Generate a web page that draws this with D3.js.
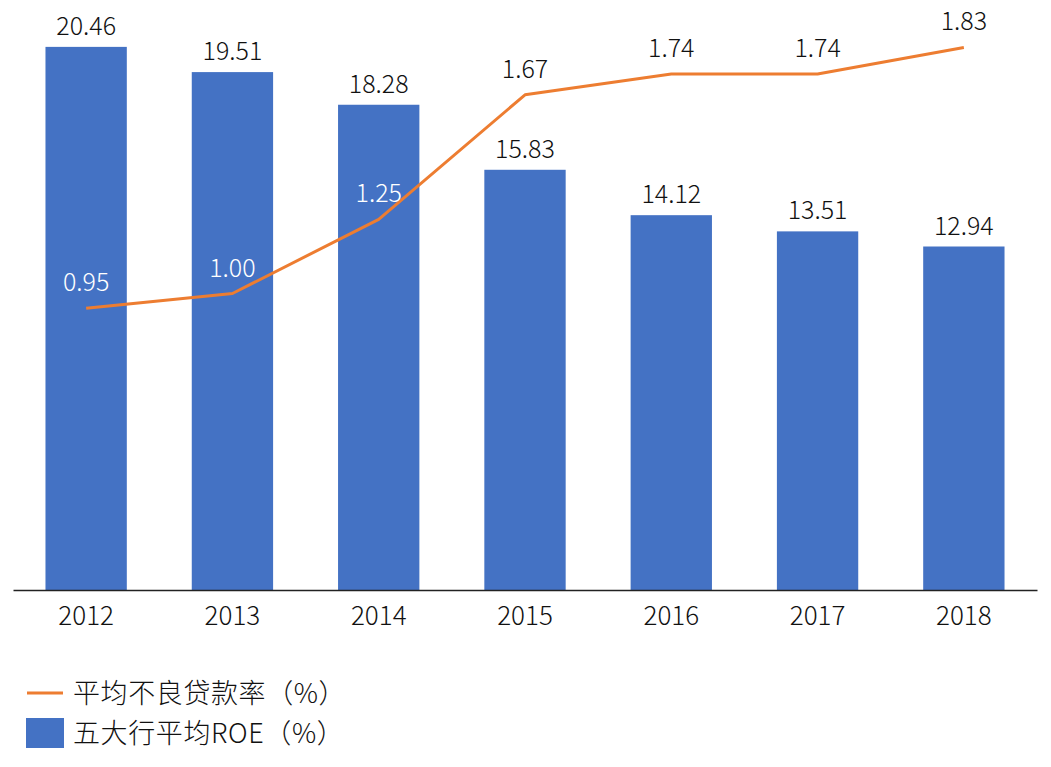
<!DOCTYPE html>
<html><head><meta charset="utf-8">
<script src="https://cdn.jsdelivr.net/npm/d3@7/dist/d3.min.js"></script>
<style>body{margin:0;background:#fff;}svg{display:block;}</style>
</head><body>
<svg id="c" width="1051" height="767"></svg>
<script>
const years = ["2012","2013","2014","2015","2016","2017","2018"];
const roe = [20.46, 19.51, 18.28, 15.83, 14.12, 13.51, 12.94];
const npl = [0.95, 1.00, 1.25, 1.67, 1.74, 1.74, 1.83];
const nplLabelWhite = [true, true, true, false, false, false, false];
const legendNames = ["平均不良贷款率（%）", "五大行平均ROE（%）"];

const svg = d3.select("#c");
const font = "'Noto Sans CJK SC', 'Liberation Sans', sans-serif";
const fw = 300;
const x = d3.scaleBand().domain(years).range([13, 1037]).paddingInner(0.444).paddingOuter(0.222);
const yL = d3.scaleLinear().domain([0, 22]).range([590, 6]);
const yR = d3.scaleLinear().domain([0, 2]).range([590, -3]);

svg.selectAll("rect.bar").data(roe).join("rect").attr("class","bar")
  .attr("x", (d,i)=>x(years[i])).attr("width", x.bandwidth())
  .attr("y", d=>yL(d)).attr("height", d=>yL(0)-yL(d)).attr("fill", "#4472C4");

svg.selectAll("text.bl").data(roe).join("text").attr("class","bl")
  .attr("x", (d,i)=>x(years[i])+x.bandwidth()/2).attr("y", d=>yL(d)-12)
  .attr("text-anchor","middle").attr("font-family", font).attr("font-weight", fw).attr("font-size", 25).attr("fill","#111")
  .text(d=>d.toFixed(2));

const xa = svg.append("g").attr("transform","translate(0,590)").call(d3.axisBottom(x).tickSize(0).tickPadding(17));
xa.select(".domain").attr("stroke","#222").attr("stroke-width",1.5);
xa.selectAll("text").attr("font-family", font).attr("font-weight", fw).attr("font-size", 26).attr("fill","#111").attr("dy","0.71em");

const line = d3.line().x((d,i)=>x(years[i])+x.bandwidth()/2).y(d=>yR(d));
svg.append("path").datum(npl).attr("d", line).attr("fill","none").attr("stroke","#ED7D31").attr("stroke-width",3).attr("stroke-linejoin","round");

svg.selectAll("text.ll").data(npl).join("text").attr("class","ll")
  .attr("x", (d,i)=>x(years[i])+x.bandwidth()/2).attr("y", d=>yR(d)-17)
  .attr("text-anchor","middle").attr("font-family", font).attr("font-weight", fw).attr("font-size", 25)
  .attr("fill", (d,i)=>nplLabelWhite[i] ? "#fff" : "#111")
  .text(d=>d.toFixed(2));

const lg = svg.append("g");
lg.append("line").attr("x1",27).attr("x2",63).attr("y1",693).attr("y2",693).attr("stroke","#ED7D31").attr("stroke-width",3);
lg.append("rect").attr("x",26).attr("y",718).attr("width",38).attr("height",30).attr("fill","#4472C4");
lg.selectAll("text").data(legendNames).join("text")
  .attr("x",73).attr("y",(d,i)=>693 + i*40).attr("dy","0.36em")
  .attr("font-family", font).attr("font-weight", fw).attr("font-size", 27).attr("letter-spacing", 0.6).attr("fill","#111").text(d=>d);
</script>
</body></html>
